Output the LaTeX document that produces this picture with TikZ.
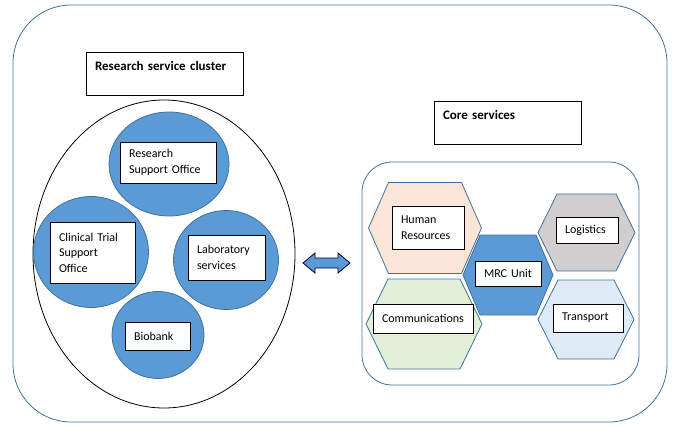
\documentclass[tikz,border=0pt]{standalone}
\usepackage{fontspec}
\setmainfont{Carlito}
\usepackage{xcolor}
\usetikzlibrary{shapes.geometric}

\definecolor{officeblue}{HTML}{5B9BD5}
\definecolor{edgeblue}{HTML}{41719C}
\definecolor{hrpeach}{HTML}{FBE5D6}
\definecolor{commgreen}{HTML}{E2F0D9}
\definecolor{logigrey}{HTML}{D0CECE}
\definecolor{transblue}{HTML}{DEEBF7}

\tikzset{
  unit/.style={ellipse, draw=edgeblue, fill=officeblue, line width=0.8pt, inner sep=0pt},
  tag/.style={draw, fill=white, line width=0.8pt, inner xsep=9pt, inner ysep=0pt, align=left,
    font=\fontsize{12}{15.5}\selectfont},
  title/.style={tag, font=\fontsize{13}{16}\selectfont\bfseries},
  hexcell/.style={draw=edgeblue, line width=0.8pt}
}

% hexagon: centre x, centre y, half width, half height, inset, fill
\newcommand{\hexcell}[6]{%
  \draw[hexcell, fill=#6] (#1-#3,#2) -- (#1-#3+#5,#2-#4) -- (#1+#3-#5,#2-#4) -- (#1+#3,#2)
    -- (#1+#3-#5,#2+#4) -- (#1-#3+#5,#2+#4) -- cycle;}

\begin{document}
\begin{tikzpicture}[x=1pt, y=-1pt]
    \useasboundingbox (0,0) rectangle (675,425);
    % frames
    \draw[edgeblue, line width=0.8pt, rounded corners=58pt] (13,5) rectangle (667,422);
    \draw[edgeblue, line width=0.8pt, rounded corners=30pt] (362,162) rectangle (639,385);

    % research service cluster
    \node[title, text width=139pt, minimum height=43pt] (rsc) at (164.5,73.5) {Research service cluster\\\mbox{}};
    \node[ellipse, draw, line width=0.8pt, minimum width=262pt, minimum height=308pt] (cluster) at (164,254) {};
    \node[unit, minimum width=120pt, minimum height=104pt] (rso_c) at (169,164) {};
    \node[unit, minimum width=115pt, minimum height=111pt] (ctso_c) at (91,252) {};
    \node[unit, minimum width=105pt, minimum height=99pt] (lab_c) at (226,260) {};
    \node[unit, minimum width=92pt, minimum height=87pt] (bio_c) at (158,335) {};
    \node[tag, text width=78pt, minimum height=41pt] (rso) at (168,162.5) {Research\\Support Office};
    \node[tag, text width=67pt, minimum height=61pt] (ctso) at (92.5,252.5) {Clinical Trial\\Support\\Office};
    \node[tag, text width=59pt, minimum height=45pt] (lab) at (226.5,257.5) {Laboratory\\services};
    \node[tag, text width=47pt, minimum height=28pt] (bio) at (157.5,336) {Biobank};

    % link between the two groups
    \coordinate (link) at (326.5,263);
    \draw[fill=officeblue, draw=black!80!blue, line width=0.8pt]
      (link) ++(-23.5,0) -- ++(12,-10) -- ++(0,5) -- ++(23,0) -- ++(0,-5) -- ++(12,10)
      -- ++(-12,10) -- ++(0,-5) -- ++(-23,0) -- ++(0,5) -- cycle;

    % core services
    \node[title, text width=129pt, minimum height=43pt] (core) at (507.5,122.5) {Core services\\\mbox{}};
    \hexcell{425}{228}{56.5}{45.5}{20}{hrpeach}
    \hexcell{424}{324}{58}{45}{22}{commgreen}
    \hexcell{508}{275}{45}{40}{17}{officeblue}
    \hexcell{586.5}{232.5}{48.5}{38.5}{19}{logigrey}
    \hexcell{586}{319.5}{48}{39.5}{20}{transblue}
    \node[tag, text width=54pt, minimum height=43pt] (hr) at (428,227.5) {Human\\Resources};
    \node[tag, text width=82pt, minimum height=29pt] (comm) at (423,318.5) {Communications};
    \node[tag, text width=48pt, minimum height=25pt] (mrc) at (508,273.5) {MRC Unit};
    \node[tag, text width=44pt, minimum height=26pt] (logi) at (587,230) {Logistics};
    \node[tag, text width=52pt, minimum height=28pt] (trans) at (588,318) {Transport};
\end{tikzpicture}
\end{document}
